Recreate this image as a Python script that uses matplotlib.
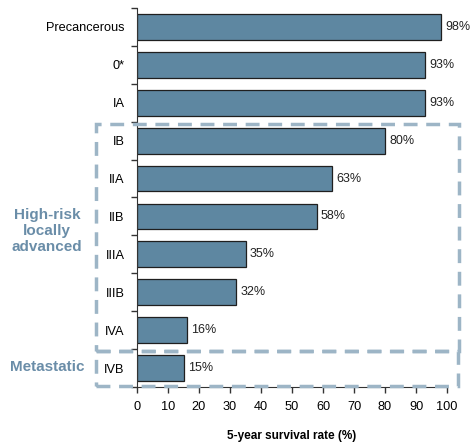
import matplotlib
matplotlib.use("Agg")
import matplotlib.pyplot as plt
from matplotlib.patches import Rectangle
from matplotlib.ticker import FixedLocator

plt.rcParams['font.family'] = ['Liberation Sans', 'DejaVu Sans']

stages = ["Precancerous", "0*", "IA", "IB", "IIA", "IIB", "IIIA", "IIIB", "IVA", "IVB"]
survival = [98, 93, 93, 80, 63, 58, 35, 32, 16, 15]
xticks = [0, 10, 20, 30, 40, 50, 60, 70, 80, 90, 100]

bar_color = "#5E87A1"
box_color = "#9DB5C6"
group_color = "#6A8DA8"

W, H = 471, 444
fig = plt.figure(figsize=(4.71, 4.44), dpi=100)
ax = fig.add_axes([137/W, 1-387/H, 310/W, 379/H])

ypos = list(range(len(stages)))
ax.barh(ypos, survival, height=0.68, color=bar_color, edgecolor="#1f1f1f", linewidth=0.9)
for y, v in zip(ypos, survival):
    ax.annotate(f"{v}%", (v, y), xytext=(3, 0), textcoords="offset points",
                va="center", ha="left", fontsize=9, color="#222222")

ax.set_ylim(len(stages) - 0.5, -0.5)
ax.set_xlim(0, 100)
ax.set_yticks(ypos)
ax.set_yticklabels(stages, fontsize=9.2)
ax.tick_params(axis="y", which="major", length=0, pad=9)
ax.yaxis.set_minor_locator(FixedLocator([i - 0.5 for i in range(len(stages) + 1)]))
ax.tick_params(axis="y", which="minor", length=4, width=1, color="#333333")
ax.set_xticks(xticks)
ax.set_xticklabels([str(t) for t in xticks], fontsize=9.2)
ax.tick_params(axis="x", length=4, width=1, color="#333333", pad=6)
for s in ["top", "right"]:
    ax.spines[s].set_visible(False)
for s in ["left", "bottom"]:
    ax.spines[s].set_color("#333333")
ax.set_xlabel("5-year survival rate (%)", fontsize=8.5, fontweight="bold", labelpad=12)

def fbox(x0, y0, x1, y1):
    r = Rectangle((x0/W, 1-y1/H), (x1-x0)/W, (y1-y0)/H, transform=fig.transFigure,
                  fill=False, edgecolor=box_color, linewidth=2.5, linestyle=(0, (4, 2.5)),
                  clip_on=False, zorder=5)
    fig.add_artist(r)

fbox(96, 124, 459, 351)
fbox(96, 351, 458, 386)

fig.text(47/W, 1-231/H, "High-risk\nlocally\nadvanced", ha="center", va="center",
         fontsize=11, fontweight="bold", color=group_color, linespacing=1.15)
fig.text(47/W, 1-367/H, "Metastatic", ha="center", va="center",
         fontsize=11, fontweight="bold", color=group_color)

fig.savefig("out.png", dpi=100)
